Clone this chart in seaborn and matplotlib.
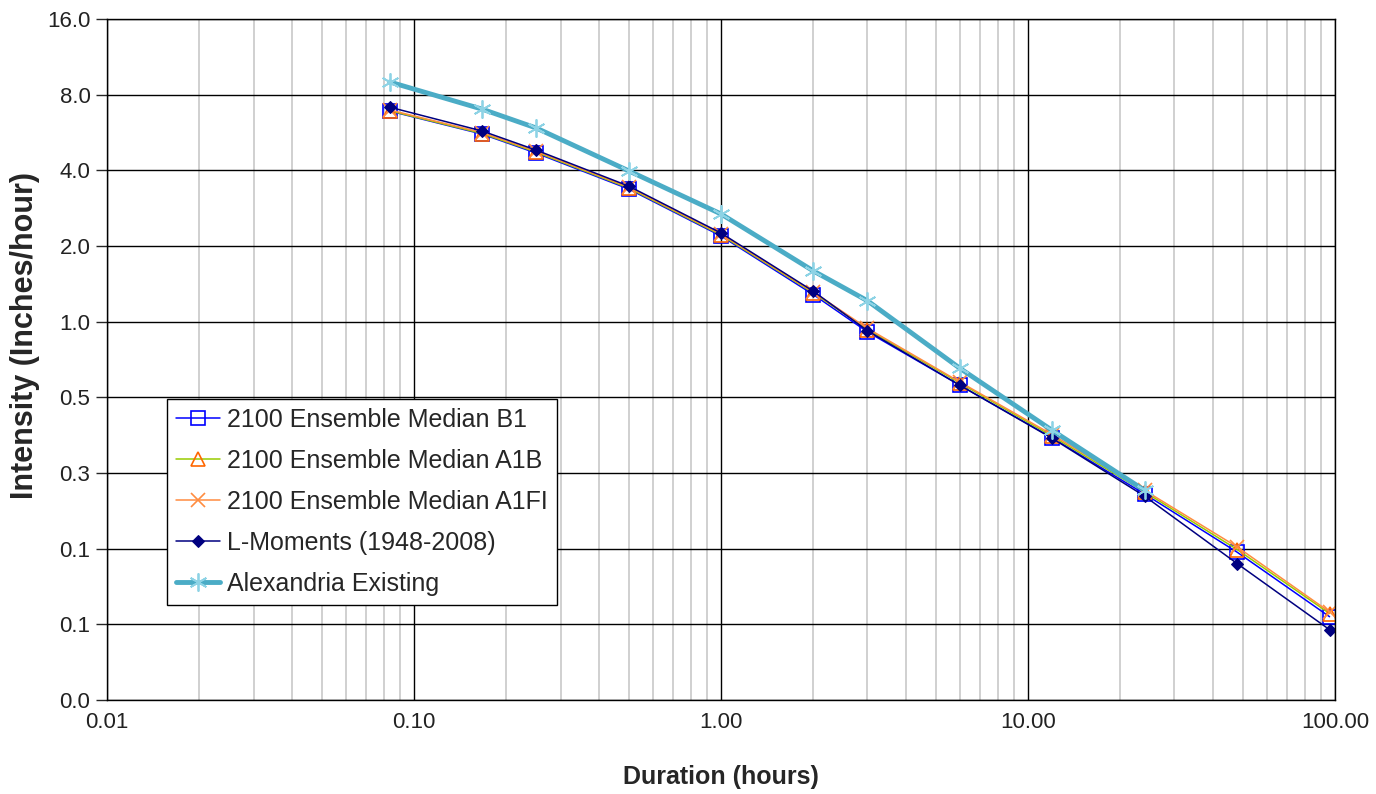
import numpy as np
import pandas as pd
import matplotlib
matplotlib.use("Agg")
import matplotlib.pyplot as plt
import seaborn as sns
from matplotlib.ticker import FixedLocator, FixedFormatter, LogLocator, NullFormatter

# ------------------------------------------------------------------------
# data
# ------------------------------------------------------------------------
duration = [0.0833, 0.1667, 0.25, 0.5, 1, 2, 3, 6, 12, 24, 48, 96]

b1 = [6.88, 5.57, 4.68, 3.37, 2.19, 1.28, 0.91, 0.558, 0.345, 0.206, 0.121, 0.067]
a1b = [6.90, 5.60, 4.72, 3.40, 2.21, 1.30, 0.93, 0.570, 0.350, 0.210, 0.124, 0.069]
a1fi = [6.95, 5.65, 4.76, 3.43, 2.23, 1.31, 0.94, 0.575, 0.355, 0.213, 0.127, 0.070]
lmom = [7.13, 5.73, 4.81, 3.46, 2.25, 1.32, 0.92, 0.558, 0.343, 0.202, 0.109, 0.0595]
alex_dur = [0.0833, 0.1667, 0.25, 0.5, 1, 2, 3, 6, 12, 24]
alex = [8.98, 7.00, 5.89, 3.98, 2.68, 1.59, 1.21, 0.652, 0.369, 0.213]

y_ticks = [0.03125, 0.0625, 0.125, 0.25, 0.5, 1, 2, 4, 8, 16]
y_labels = ["0.0", "0.1", "0.1", "0.3", "0.5", "1.0", "2.0", "4.0", "8.0", "16.0"]
x_ticks = [0.01, 0.1, 1, 10, 100]
x_labels = ["0.01", "0.10", "1.00", "10.00", "100.00"]

# ------------------------------------------------------------------------
# plot
# ------------------------------------------------------------------------
sns.set_style("white")
plt.rcParams['font.family'] = ['Liberation Sans', 'DejaVu Sans']

fig = plt.figure(figsize=(13.76, 7.94), dpi=100)
ax = fig.add_axes([0.0778, 0.1184, 0.8924, 0.8578])

ax.set_xscale("log")
ax.set_yscale("log", base=2)

series = [
    ("2100 Ensemble Median B1", duration, b1,
     dict(color="#0000FF", lw=1.1, marker="s", ms=10, mfc="none", mec="#0000FF", mew=1.2)),
    ("2100 Ensemble Median A1B", duration, a1b,
     dict(color="#99CC00", lw=1.1, marker="^", ms=10, mfc="none", mec="#FF6600", mew=1.2)),
    ("2100 Ensemble Median A1FI", duration, a1fi,
     dict(color="#FF8C40", lw=1.1, marker="x", ms=10, mec="#FF8C40", mew=1.2)),
    ("L-Moments (1948-2008)", duration, lmom,
     dict(color="#000080", lw=1.1, marker="D", ms=6.5, mfc="#000080", mec="#000080")),
    ("Alexandria Existing", alex_dur, alex,
     dict(color="#4BACC6", lw=3.5, marker=(6, 2, 0), ms=13, mec="#8DD3E5", mew=1.3)),
]

for name, xs, ys, style in series:
    df = pd.DataFrame({"x": xs, "y": ys})
    sns.lineplot(data=df, x="x", y="y", ax=ax, label=name, **style)

ax.set_xlim(0.01, 100)
ax.set_ylim(0.03125, 16)

ax.yaxis.set_major_locator(FixedLocator(y_ticks))
ax.yaxis.set_major_formatter(FixedFormatter(y_labels))
ax.yaxis.set_minor_locator(FixedLocator([]))
ax.xaxis.set_major_locator(FixedLocator(x_ticks))
ax.xaxis.set_major_formatter(FixedFormatter(x_labels))
ax.xaxis.set_minor_locator(LogLocator(base=10, subs=np.arange(2, 10)))
ax.xaxis.set_minor_formatter(NullFormatter())

ax.grid(True, which="major", axis="both", color="black", lw=1.0)
ax.grid(True, which="minor", axis="x", color="#C8C8C8", lw=1.2)
ax.set_axisbelow(True)

ax.tick_params(axis="y", which="major", direction="out", length=8, width=1,
               labelsize=16, left=True, pad=4, labelcolor="#222222")
ax.tick_params(axis="x", which="major", direction="out", length=0,
               labelsize=16, pad=9, labelcolor="#222222")
ax.tick_params(axis="x", which="minor", length=0)

for sp in ax.spines.values():
    sp.set_color("black")
    sp.set_linewidth(1.0)

ax.set_xlabel("Duration (hours)", fontsize=18, fontweight="bold", labelpad=23)
ax.set_ylabel("Intensity (Inches/hour)", fontsize=22, fontweight="bold")
ax.yaxis.set_label_coords(-0.0545, 0.535)

leg = ax.legend(loc="lower left", bbox_to_anchor=(0.0489, 0.1395), borderaxespad=0,
                fontsize=18, frameon=True, fancybox=False, framealpha=1,
                edgecolor="black", handlelength=1.75, labelspacing=0.68,
                borderpad=0.35, handletextpad=0.3)
leg.get_frame().set_linewidth(1.0)

fig.savefig("out.png", dpi=100)
